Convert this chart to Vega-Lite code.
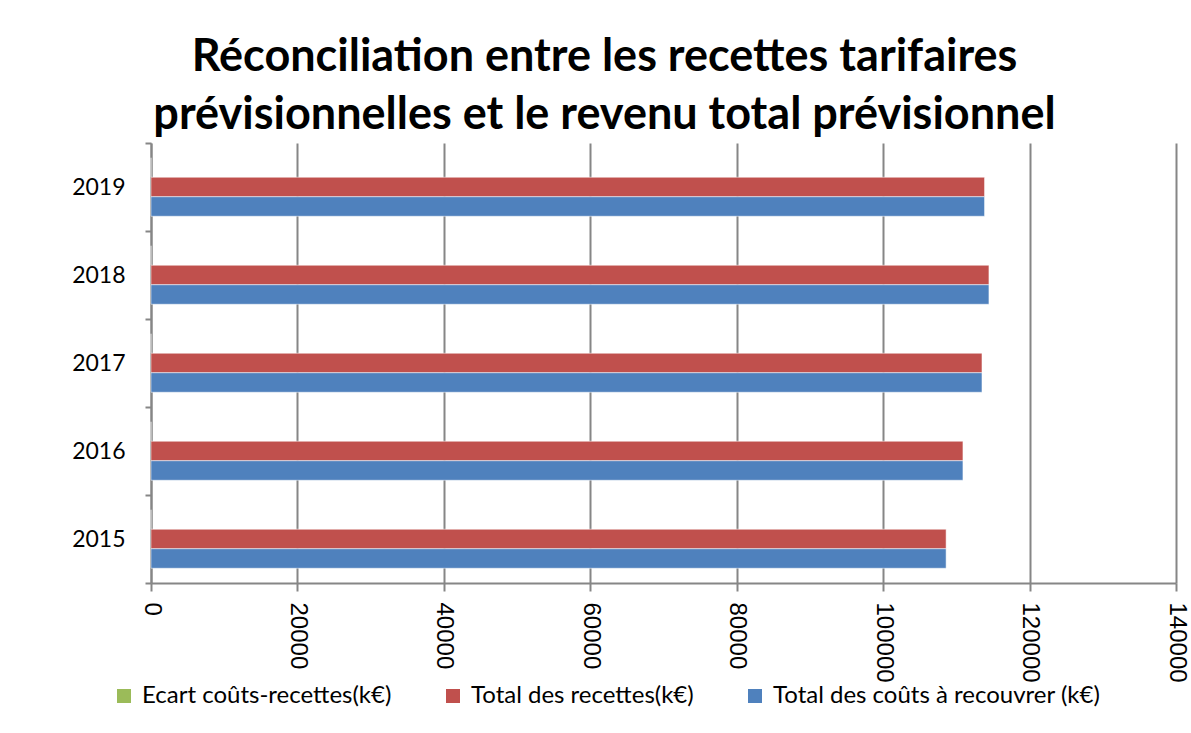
{
  "$schema": "https://vega.github.io/schema/vega-lite/v6.json",
  "width": 1025,
  "height": 440,
  "autosize": {"type": "none"},
  "padding": {"left": 151, "top": 143, "right": 15, "bottom": 150},
  "background": "white",
  "title": {
    "text": ["Réconciliation entre les recettes tarifaires", "prévisionnelles et le revenu total prévisionnel"],
    "font": "Lato",
    "fontSize": 45,
    "fontWeight": "bold",
    "color": "#000000",
    "anchor": "middle",
    "frame": "group",
    "dx": -59,
    "offset": -6,
    "lineHeight": 58
  },
  "data": {
    "values": [
      {"annee": "2015", "serie": "Ecart coûts-recettes(k€)", "valeur": 0},
      {"annee": "2015", "serie": "Total des recettes(k€)", "valeur": 108600},
      {"annee": "2015", "serie": "Total des coûts à recouvrer (k€)", "valeur": 108600},
      {"annee": "2016", "serie": "Ecart coûts-recettes(k€)", "valeur": 0},
      {"annee": "2016", "serie": "Total des recettes(k€)", "valeur": 110900},
      {"annee": "2016", "serie": "Total des coûts à recouvrer (k€)", "valeur": 110900},
      {"annee": "2017", "serie": "Ecart coûts-recettes(k€)", "valeur": 0},
      {"annee": "2017", "serie": "Total des recettes(k€)", "valeur": 113500},
      {"annee": "2017", "serie": "Total des coûts à recouvrer (k€)", "valeur": 113500},
      {"annee": "2018", "serie": "Ecart coûts-recettes(k€)", "valeur": 0},
      {"annee": "2018", "serie": "Total des recettes(k€)", "valeur": 114450},
      {"annee": "2018", "serie": "Total des coûts à recouvrer (k€)", "valeur": 114450},
      {"annee": "2019", "serie": "Ecart coûts-recettes(k€)", "valeur": 0},
      {"annee": "2019", "serie": "Total des recettes(k€)", "valeur": 113850},
      {"annee": "2019", "serie": "Total des coûts à recouvrer (k€)", "valeur": 113850}
    ]
  },
  "mark": {"type": "bar", "stroke": "#ffffff", "strokeWidth": 1, "strokeOpacity": 0.5},
  "encoding": {
    "y": {
      "field": "annee",
      "type": "nominal",
      "sort": "descending",
      "scale": {"paddingInner": 0, "paddingOuter": 0},
      "axis": {
        "title": null,
        "tickBand": "extent",
        "domainColor": "#868686",
        "domainWidth": 2,
        "tickColor": "#868686",
        "tickWidth": 2,
        "tickSize": 6,
        "labelPadding": 20,
        "labelFont": "Lato",
        "labelFontSize": 23,
        "labelColor": "#000000",
        "grid": false
      }
    },
    "yOffset": {
      "field": "serie",
      "type": "nominal",
      "sort": ["Ecart coûts-recettes(k€)", "Total des recettes(k€)", "Total des coûts à recouvrer (k€)"],
      "scale": {"paddingInner": 0, "paddingOuter": 0.756}
    },
    "x": {
      "field": "valeur",
      "type": "quantitative",
      "scale": {"domain": [0, 140000], "nice": false},
      "axis": {
        "title": null,
        "values": [0, 20000, 40000, 60000, 80000, 100000, 120000, 140000],
        "format": "d",
        "labelAngle": 90,
        "labelFont": "Liberation Sans",
        "labelFontSize": 24,
        "labelColor": "#000000",
        "labelPadding": 11,
        "tickSize": 8,
        "tickColor": "#868686",
        "tickWidth": 2,
        "domainColor": "#868686",
        "domainWidth": 2,
        "grid": true,
        "gridColor": "#868686",
        "gridWidth": 2,
        "labelFlush": false,
        "labelOverlap": false
      }
    },
    "color": {
      "field": "serie",
      "type": "nominal",
      "scale": {
        "domain": ["Ecart coûts-recettes(k€)", "Total des recettes(k€)", "Total des coûts à recouvrer (k€)"],
        "range": ["#9BBB59", "#C0504D", "#4F81BD"]
      },
      "legend": {
        "title": null,
        "orient": "none",
        "direction": "horizontal",
        "legendX": -39,
        "legendY": 541,
        "symbolType": "square",
        "symbolSize": 196,
        "symbolStrokeWidth": 0,
        "labelFont": "Lato",
        "labelFontSize": 24,
        "labelColor": "#000000",
        "labelLimit": 500,
        "columnPadding": 49,
        "labelOffset": 6
      }
    }
  },
  "config": {
    "view": {"stroke": null}
  }
}
